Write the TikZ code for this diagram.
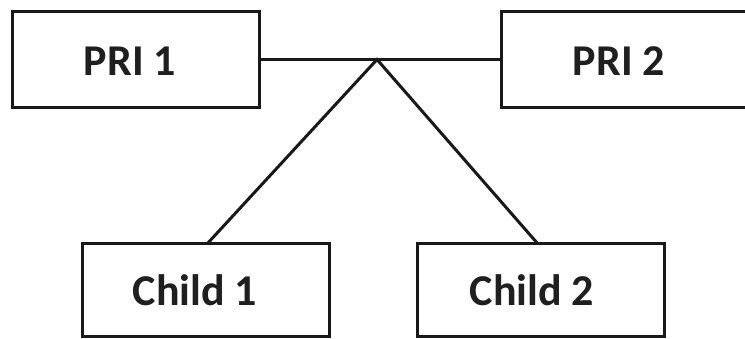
\documentclass[tikz,border=0pt]{standalone}
\usepackage{fontspec}
\setmainfont{Carlito}
\begin{document}
\begin{tikzpicture}[x=1pt,y=-1pt,
  boxnode/.style={draw=black!90, line width=3pt, minimum width=247pt, minimum height=96pt, inner sep=0pt, outer sep=0pt},
  lbl/.style={font=\fontsize{44}{44}\selectfont\bfseries, text=black!88, inner sep=0pt},
  conn/.style={draw=black!90, line width=3pt}]
\useasboundingbox (0,0) rectangle (745,339);
\clip (0,0) rectangle (745,339);
\fill[white] (0,0) rectangle (745,339);
\node[boxnode] (p1) at (135.5,59.5) {};
\node[boxnode, minimum width=260pt] (p2) at (631,59.5) {};
\node[boxnode, minimum height=93pt] (c1) at (206,290.5) {};
\node[boxnode, minimum height=93pt] (c2) at (540.5,290.5) {};
\node[lbl] (t1) at (130,61) {PRI 1};
\node[lbl] (t2) at (619,61) {PRI 2};
\node[lbl] (t3) at (195,290) {Child 1};
\node[lbl] (t4) at (532,290) {Child 2};
\coordinate (j) at (377,59.5);
\draw[conn] (p1.east) -- (p2.west);
\draw[conn] ([xshift=1pt]c1.north) -- (j) -- ([xshift=-2.5pt]c2.north);
\end{tikzpicture}
\end{document}
